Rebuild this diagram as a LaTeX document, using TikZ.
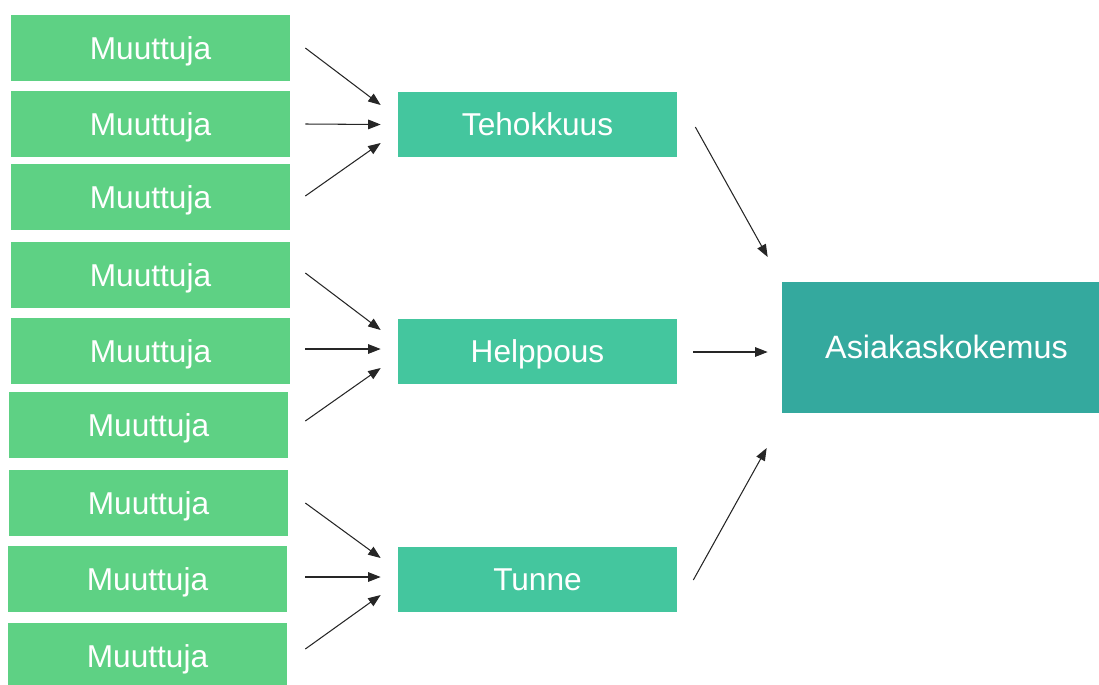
\documentclass[tikz,border=0pt]{standalone}
\usepackage{fontspec}
\setmainfont{Liberation Sans}
\usetikzlibrary{calc,arrows.meta}

\definecolor{muuttujagreen}{RGB}{94,209,132}
\definecolor{tekijagreen}{RGB}{68,198,158}
\definecolor{tulosteal}{RGB}{52,169,158}

\begin{document}
\begin{tikzpicture}[x=0.02cm, y=-0.02cm,
  muuttuja/.style={fill=muuttujagreen, text=white, minimum width=5.58cm, minimum height=1.32cm, inner sep=0pt, text height=13pt, text depth=0pt, font=\fontsize{18}{20}\selectfont},
  tekija/.style={muuttuja, fill=tekijagreen, minimum height=1.3cm},
  tulos/.style={muuttuja, fill=tulosteal, minimum width=6.58cm, minimum height=2.62cm, font=\fontsize{18.4}{20}\selectfont},
  nuoli/.style={line width=0.6pt, draw=black!85, -{Triangle[length=0.25cm, width=0.19cm]}}]
\useasboundingbox (0,0) rectangle (1099,684);

\node[muuttuja] (v1) at (150.5, 48) {Muuttuja};
\node[muuttuja] (v2) at (150.5, 124) {Muuttuja};
\node[muuttuja] (v3) at (150.5, 197) {Muuttuja};
\node[muuttuja] (v4) at (150.5, 275) {Muuttuja};
\node[muuttuja] (v5) at (150.5, 351) {Muuttuja};
\node[muuttuja] (v6) at (148.5, 425) {Muuttuja};
\node[muuttuja] (v7) at (148.5, 503) {Muuttuja};
\node[muuttuja] (v8) at (147.5, 579) {Muuttuja};
\node[muuttuja] (v9) at (147.5, 656) {Muuttuja};

\node[tekija] (teh) at (537.5, 124.5) {Tehokkuus};
\node[tekija] (hel) at (537.5, 351.5) {Helppous};
\node[tekija] (tun) at (537.5, 579.5) {Tunne};

\node[tulos] (ak) at (946.5, 347.5) {Asiakaskokemus};

% muuttujat -> tehokkuus
\draw[nuoli] ($(v1.east)+(15,0)$) -- ($(teh.west)+(-17,-19.5)$);
\draw[nuoli] ($(v2.east)+(15,0)$) -- ($(teh.west)+(-17,0)$);
\draw[nuoli] ($(v3.east)+(15,-1)$) -- ($(teh.west)+(-17,18.5)$);

% muuttujat -> helppous
\draw[nuoli] ($(v4.east)+(15,-2)$) -- ($(hel.west)+(-17,-21.5)$);
\draw[nuoli] ($(v5.east)+(15,-2)$) -- ($(hel.west)+(-17,-2.5)$);
\draw[nuoli] ($(v6.east)+(17,-4)$) -- ($(hel.west)+(-17,16.5)$);

% muuttujat -> tunne
\draw[nuoli] ($(v7.east)+(17,0)$) -- ($(tun.west)+(-17,-21.5)$);
\draw[nuoli] ($(v8.east)+(18,-2)$) -- ($(tun.west)+(-17,-2.5)$);
\draw[nuoli] ($(v9.east)+(18,-7)$) -- ($(tun.west)+(-17,15.5)$);

% tekijat -> asiakaskokemus
\draw[nuoli] ($(teh.east)+(18,2.5)$) -- ($(ak.west)+(-14,-90.5)$);
\draw[nuoli] ($(hel.east)+(16,0.5)$) -- ($(ak.west)+(-14,4.5)$);
\draw[nuoli] ($(tun.east)+(16,0.5)$) -- ($(ak.west)+(-15,100.5)$);
\end{tikzpicture}
\end{document}
